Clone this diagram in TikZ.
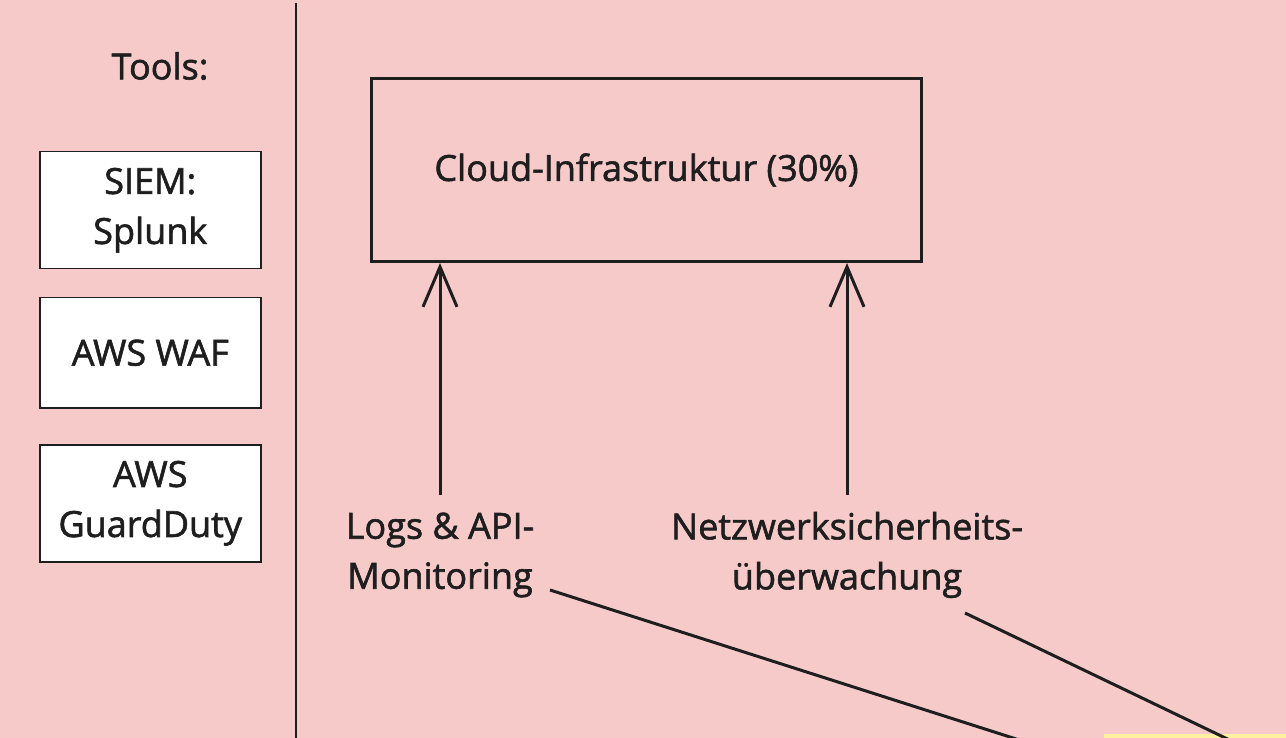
\documentclass[tikz,border=0pt]{standalone}
\usepackage{fontspec}
\setmainfont{Open Sans}
\newfontfamily\labelfont{Open Sans}[FakeBold=1.6]
\usetikzlibrary{arrows.meta}
\definecolor{bgpink}{HTML}{F7CACA}
\definecolor{ink}{HTML}{1E1E1E}
\definecolor{yel}{HTML}{FFF0A0}
\tikzset{
  txt/.style={font=\labelfont\fontsize{36}{50}\selectfont, text=ink, align=center},
  toolbox/.style={draw=ink, line width=1.5pt, fill=white, minimum width=221pt, anchor=north west, txt},
  mainbox/.style={draw=ink, line width=3pt, minimum width=550pt, minimum height=183pt, anchor=north west, txt},
  uparrow/.style={draw=ink, line width=3pt, -{Straight Barb[length=40pt,width=34pt,line width=3pt]}},
  link/.style={draw=ink, line width=3pt}
}
\begin{document}
\begin{tikzpicture}[x=1pt,y=-1pt]
\useasboundingbox (0,0) rectangle (1286,738);
\begin{scope}
\clip (0,0) rectangle (1286,738);
\fill[bgpink] (0,0) rectangle (1286,738);
\fill[yel] (1104,734) rectangle (1286,745);
\draw[ink, line width=1.5pt] (296,3) -- (296,745);
\node[txt] (tools) at (160,66) {Tools:};
\node[toolbox, minimum height=117pt] (siem) at (39,151) {SIEM:\\Splunk};
\node[toolbox, minimum height=110pt] (waf) at (39,297) {AWS WAF};
\node[toolbox, minimum height=117pt] (guard) at (39,444) {AWS\\GuardDuty};
\node[mainbox] (cloud) at (370,77) {Cloud-Infrastruktur (30\%)};
\node[txt] (logs) at (440,555) {Logs \& API-\\Monitoring};
\node[txt] (netz) at (847,555) {Netzwerksicherheits-\\überwachung};
\coordinate (logsend) at (440,495);
\coordinate (netzend) at (847,495);
\draw[uparrow] (logsend) -- (logsend |- cloud.south);
\draw[uparrow] (netzend) -- (netzend |- cloud.south);
\coordinate (l1a) at (550,590);
\coordinate (l1b) at (1035,745);
\coordinate (l2a) at (965,613);
\coordinate (l2b) at (1240,745);
\draw[link] (l1a) -- (l1b);
\draw[link] (l2a) -- (l2b);
\end{scope}
\end{tikzpicture}
\end{document}
